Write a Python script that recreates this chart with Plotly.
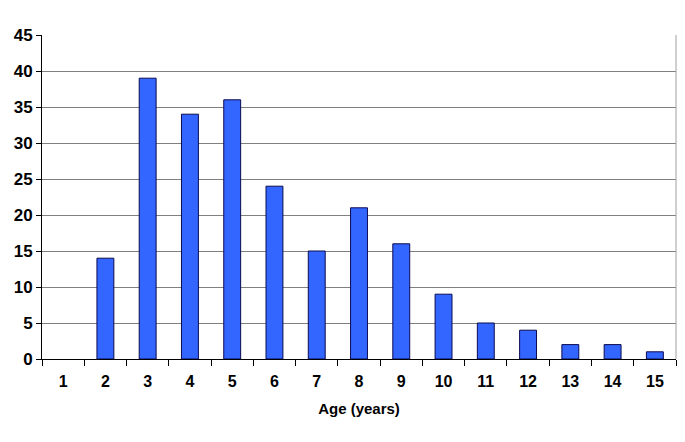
import plotly.graph_objects as go

ages = [str(i) for i in range(1, 16)]
counts = [0, 14, 39, 34, 36, 24, 15, 21, 16, 9, 5, 4, 2, 2, 1]
y_ticks = [0, 5, 10, 15, 20, 25, 30, 35, 40, 45]

fig = go.Figure(go.Bar(
    x=ages, y=counts,
    marker=dict(color="#3366FF",
                line=dict(color="#0A0A50", width=[0 if v == 0 else 1 for v in counts])),
))

fam = "Liberation Sans, Arial, sans-serif"

fig.update_layout(
    width=669, height=426,
    margin=dict(l=34, r=1, t=27, b=75),
    plot_bgcolor="white", paper_bgcolor="white",
    bargap=0.6,
    showlegend=False,
    font=dict(family=fam, color="black"),
)
fig.update_xaxes(
    type="category", tickson="boundaries", ticks="outside", ticklen=6,
    tickcolor="black", showline=True, linecolor="black", linewidth=1,
    showgrid=False, automargin=False, ticklabelstandoff=8,
    tickfont=dict(family=fam, size=16, color="black", weight="bold"),
    title=dict(text="<b>Age (years)</b>", font=dict(family=fam, size=15), standoff=14),
)
fig.update_yaxes(
    range=[0, 45], tickvals=y_ticks, ticks="outside", ticklen=5, tickcolor="black",
    showline=True, linecolor="black", linewidth=1, automargin=False,
    showgrid=True, gridcolor="#808080", gridwidth=1, zeroline=False,
    tickfont=dict(family=fam, size=17, color="black", weight="bold"),
)
fig.add_shape(type="line", xref="paper", yref="paper", x0=1, x1=1, y0=0, y1=1,
              line=dict(color="#A0A0A0", width=1))

fig.write_html("out.html")
